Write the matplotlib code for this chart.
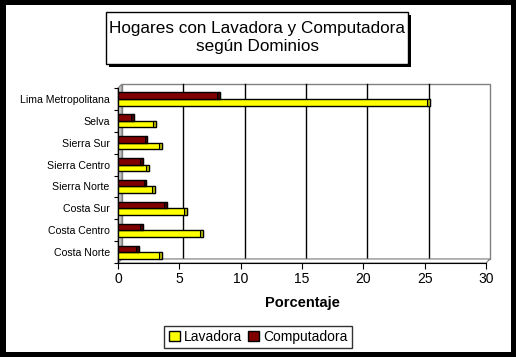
"""Hogares con Lavadora y Computadora segun Dominios - 3D-style bar chart."""

import matplotlib
matplotlib.use("Agg")
import matplotlib.pyplot as plt
import matplotlib.transforms as mtransforms
from matplotlib.patches import Rectangle, Polygon
import numpy as np

# data (bottom to top)
dominios = ["Costa Norte", "Costa Centro", "Costa Sur", "Sierra Norte",
            "Sierra Centro", "Sierra Sur", "Selva", "Lima Metropolitana"]
lavadora = [3.6, 6.9, 5.6, 3.0, 2.5, 3.6, 3.1, 25.4]
computadora = [1.7, 2.0, 4.0, 2.3, 2.0, 2.4, 1.3, 8.3]
x_ticks = [0, 5, 10, 15, 20, 25, 30]

W, H = 516, 357
plt.rcParams["font.family"] = ["Liberation Sans", "DejaVu Sans"]

fig = plt.figure(figsize=(W / 100, H / 100), dpi=100)
fig.patch.set_facecolor("black")


def px(x0, y0, x1, y1):
    # pixel box (top-left origin) -> figure fraction rect
    return [x0 / W, 1 - y1 / H, (x1 - x0) / W, (y1 - y0) / H]


# white inner panel
fig.add_artist(Rectangle((6 / W, 1 - 352 / H), 505 / W, 347 / H,
                         transform=fig.transFigure, facecolor="white",
                         edgecolor="none", zorder=0))

# title box with shadow
fig.add_artist(Rectangle((109 / W, 1 - 67 / H), 302 / W, 52 / H,
                         transform=fig.transFigure, facecolor="black",
                         edgecolor="none", zorder=1))
fig.add_artist(Rectangle((106 / W, 1 - 64 / H), 302 / W, 52 / H,
                         transform=fig.transFigure, facecolor="white",
                         edgecolor="black", linewidth=1, zorder=2))
fig.text(257 / W, 1 - 38 / H, "Hogares con Lavadora y Computadora\nsegún Dominios",
         ha="center", va="center", fontsize=12.3, linespacing=1.25, zorder=3)

# front plane axes
ax = fig.add_axes(px(118, 88, 486, 263))
ax.set_facecolor("none")
ax.set_xlim(0, 30)
ax.set_ylim(0, len(dominios))

depth = mtransforms.ScaledTranslation(4 / 100, 4 / 100, fig.dpi_scale_trans)
back = ax.transData + depth

# back wall outline and gridlines
ax.add_patch(Rectangle((0, 0), 30, len(dominios), transform=back,
                       facecolor="white", edgecolor="#808080", linewidth=1,
                       zorder=0, clip_on=False))
for t in x_ticks[1:-1]:
    ax.plot([t, t], [0, len(dominios)], transform=back, color="black",
            linewidth=1, zorder=0.5, clip_on=False)

# left side wall (grey) and floor
d = 4 / 368 * 30
dy = 4 / 175 * len(dominios)
ax.add_patch(Polygon([(0, 0), (d, dy), (d, len(dominios) + dy), (0, len(dominios))],
                     closed=True, facecolor="#c0c0c0", edgecolor="#808080",
                     linewidth=0.8, zorder=0.6, clip_on=False))
ax.add_patch(Polygon([(0, 0), (30, 0), (30 + d, dy), (d, dy)], closed=True,
                     facecolor="white", edgecolor="#808080", linewidth=0.8,
                     zorder=0.6, clip_on=False))

# bars
y = np.arange(len(dominios)) + 0.5
h = 0.3
ax.barh(y - h / 2, lavadora, height=h, color="#ffff00", edgecolor="black",
        linewidth=1, zorder=3, label="Lavadora")
ax.barh(y + h / 2, computadora, height=h, color="#800000", edgecolor="black",
        linewidth=1, zorder=3, label="Computadora")
# end caps for the 3D look
ax.barh(y - h / 2, 0.22, left=np.array(lavadora) - 0.22, height=h,
        color="#b0b000", edgecolor="black", linewidth=0.8, zorder=4)
ax.barh(y + h / 2, 0.22, left=np.array(computadora) - 0.22, height=h,
        color="#400000", edgecolor="black", linewidth=0.8, zorder=4)

# axes styling
for side in ["top", "right"]:
    ax.spines[side].set_visible(False)
ax.spines["left"].set_color("black")
ax.spines["bottom"].set_color("black")
ax.set_xticks(x_ticks)
ax.set_xticklabels([str(t) for t in x_ticks], fontsize=10)
ax.set_yticks(np.arange(len(dominios) + 1), minor=False)
ax.set_yticklabels([])
ax.set_yticks(y, minor=True)
ax.set_yticklabels(dominios, minor=True, fontsize=7.6)
ax.tick_params(axis="y", which="minor", length=0, pad=6)
ax.tick_params(axis="y", which="major", length=3, direction="out")
ax.tick_params(axis="x", length=4, direction="out", pad=2.5)
ax.set_xlabel("Porcentaje", fontsize=10.5, fontweight="bold", labelpad=7)

# legend
handles = [Rectangle((0, 0), 1, 1, facecolor="#ffff00", edgecolor="black"),
           Rectangle((0, 0), 1, 1, facecolor="#800000", edgecolor="black")]
leg = fig.legend(handles, ["Lavadora", "Computadora"], loc="center",
                 bbox_to_anchor=(258 / W, 1 - 337 / H), ncol=2, fontsize=10,
                 frameon=True, fancybox=False, handlelength=0.8,
                 handleheight=0.8, handletextpad=0.3, columnspacing=0.4,
                 borderpad=0.3)
leg.get_frame().set_edgecolor("black")
leg.get_frame().set_linewidth(1)

fig.savefig("out.png", dpi=100, facecolor=fig.get_facecolor())
